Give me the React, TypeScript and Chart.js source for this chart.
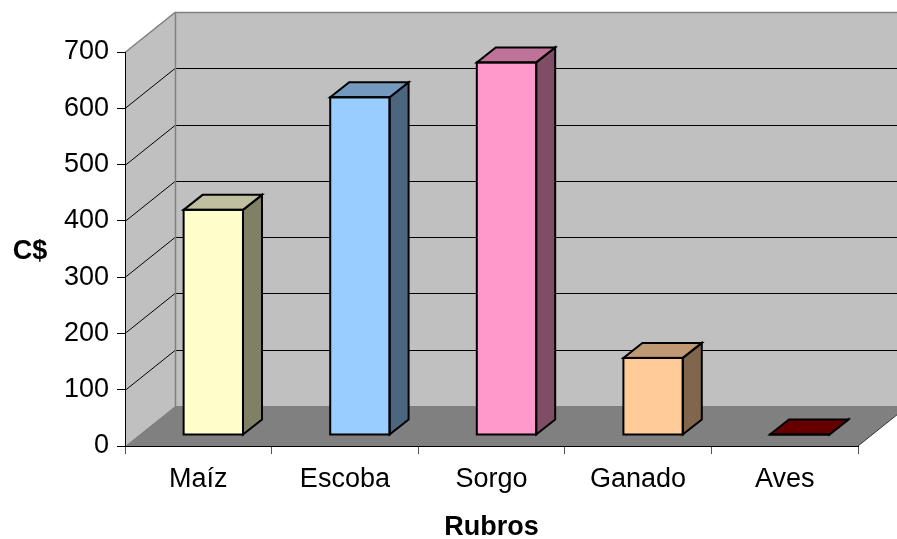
import { useEffect, useRef } from 'react';
import { Chart, registerables } from 'chart.js';

Chart.register(...registerables);

const categories = ['Maíz', 'Escoba', 'Sorgo', 'Ganado', 'Aves'];
const values = [400, 600, 662, 137, 1];
const yTicks = [0, 100, 200, 300, 400, 500, 600, 700];
const frontColors = ['#FFFFCC', '#99CCFF', '#FF99CC', '#FFCC99', '#660000'];
const sideColors = ['#808066', '#4D6680', '#804D66', '#80664D', '#330000'];
const topColors = ['#C0C0A0', '#7399BF', '#BF7399', '#BF9973', '#660000'];
const yTitle = 'C$';
const xTitle = 'Rubros';

const FONT = '"Liberation Sans", Arial, sans-serif';
// depth of the walls / floor
const DX = 50;
const DY = -40;
// plane of the bars
const BX = 15;
const BY = -11;
// depth of each bar
const SX = 19;
const SY = -15;

function poly(ctx: CanvasRenderingContext2D, pts: number[][], fill: string | null, stroke?: string, lw = 1) {
  ctx.beginPath();
  ctx.moveTo(pts[0][0], pts[0][1]);
  for (let i = 1; i < pts.length; i++) ctx.lineTo(pts[i][0], pts[i][1]);
  ctx.closePath();
  if (fill) {
    ctx.fillStyle = fill;
    ctx.fill();
  }
  if (stroke) {
    ctx.strokeStyle = stroke;
    ctx.lineWidth = lw;
    ctx.stroke();
  }
}

function line(ctx: CanvasRenderingContext2D, pts: number[][], color: string, lw = 1) {
  ctx.beginPath();
  ctx.moveTo(pts[0][0], pts[0][1]);
  for (let i = 1; i < pts.length; i++) ctx.lineTo(pts[i][0], pts[i][1]);
  ctx.strokeStyle = color;
  ctx.lineWidth = lw;
  ctx.stroke();
}

const threeD = {
  id: 'threeD',
  beforeDraw(chart: any) {
    const { ctx, chartArea: a, scales } = chart;
    const y = scales.y;
    const x0 = a.left;
    const x1 = a.right;
    const maxV = yTicks[yTicks.length - 1];
    const top = y.getPixelForValue(maxV);
    const bot = y.getPixelForValue(0);
    ctx.save();
    // back wall
    poly(ctx, [[x0 + DX, top + DY], [x1 + DX, top + DY], [x1 + DX, bot + DY], [x0 + DX, bot + DY]], '#C0C0C0');
    // left wall
    poly(ctx, [[x0, top], [x0 + DX, top + DY], [x0 + DX, bot + DY], [x0, bot]], '#C0C0C0');
    // floor
    poly(ctx, [[x0, bot], [x1, bot], [x1 + DX, bot + DY], [x0 + DX, bot + DY]], '#808080');
    // grid lines
    for (const v of yTicks) {
      if (v <= 0 || v >= maxV) continue;
      const py = Math.round(y.getPixelForValue(v)) + 0.5;
      line(ctx, [[x0, py], [x0 + DX, py + DY]], '#000000', 1);
      line(ctx, [[x0 + DX, py + DY], [x1 + DX, py + DY]], '#000000', 1);
    }
    // wall borders
    const tpy = Math.round(top) + 0.5;
    line(ctx, [[x0, tpy], [x0 + DX, tpy + DY], [x1 + DX, tpy + DY]], '#808080', 1.5);
    line(ctx, [[x0 + DX + 0.5, tpy + DY], [x0 + DX + 0.5, bot + DY]], '#808080', 1.5);
    line(ctx, [[x1, bot], [x1 + DX, bot + DY]], '#333333', 1);
    ctx.restore();
  },
  beforeDatasetsDraw(chart: any) {
    chart.ctx.save();
    chart.ctx.translate(BX, BY);
  },
  afterDatasetsDraw(chart: any) {
    const { ctx } = chart;
    const meta = chart.getDatasetMeta(0);
    meta.data.forEach((el: any, i: number) => {
      const { x, y, base, width } = el.getProps(['x', 'y', 'base', 'width'], true);
      const l = x - width / 2;
      const r = x + width / 2;
      ctx.lineJoin = 'miter';
      poly(ctx, [[r, y], [r + SX, y + SY], [r + SX, base + SY], [r, base]], sideColors[i], '#000000', 2);
      poly(ctx, [[l, y], [r, y], [r + SX, y + SY], [l + SX, y + SY]], topColors[i], '#000000', 2);
      ctx.strokeStyle = '#000000';
      ctx.lineWidth = 2;
      ctx.strokeRect(l, y, width, base - y);
    });
    ctx.restore();
  },
  afterDraw(chart: any) {
    const { ctx, chartArea: a } = chart;
    ctx.save();
    ctx.font = `bold 27px ${FONT}`;
    ctx.fillStyle = '#000000';
    ctx.textAlign = 'center';
    ctx.textBaseline = 'middle';
    ctx.fillText(yTitle, 30, (a.top + a.bottom) / 2 + 3);
    ctx.restore();
  },
};

export default function App() {
  const ref = useRef<HTMLCanvasElement>(null);
  useEffect(() => {
    if (!ref.current) return;
    Chart.defaults.font.family = FONT;
    const chart = new Chart(ref.current, {
      type: 'bar',
      data: {
        labels: categories,
        datasets: [
          {
            data: values,
            backgroundColor: frontColors,
            borderColor: '#000000',
            borderWidth: 0,
            barPercentage: 0.405,
            categoryPercentage: 1,
          },
        ],
      },
      plugins: [threeD],
      options: {
        responsive: false,
        animation: false,
        events: [],
        layout: { padding: { top: 52, right: 39, left: 0, bottom: 0 } },
        plugins: { legend: { display: false }, tooltip: { enabled: false } },
        scales: {
          x: {
            afterFit: (s: any) => {
              s.height = 93;
            },
            grid: {
              display: true,
              drawOnChartArea: false,
              drawTicks: true,
              tickLength: 8,
              color: '#555555',
              offset: true,
            },
            border: { display: true, color: '#000000', width: 1 },
            ticks: { font: { size: 27 }, color: '#000000', padding: 9, maxRotation: 0 },
            title: {
              display: true,
              text: xTitle,
              color: '#000000',
              font: { size: 27, weight: 'bold', lineHeight: '22px' },
              padding: { top: 0, bottom: 0 },
            },
          },
          y: {
            min: 0,
            max: 700,
            afterFit: (s: any) => {
              s.width = 125;
            },
            afterBuildTicks: (s: any) => {
              s.ticks = yTicks.map((v) => ({ value: v }));
            },
            grid: {
              display: true,
              drawOnChartArea: false,
              drawTicks: true,
              tickLength: 8,
              color: '#000000',
            },
            border: { display: true, color: '#000000', width: 1 },
            ticks: { font: { size: 27 }, color: '#000000', padding: 8 },
          },
        },
      } as any,
    });
    return () => chart.destroy();
  }, []);
  return (
    <div style={{ position: 'fixed', left: 0, top: 0, width: 897, height: 539 }}>
      <canvas ref={ref} width={897} height={539} style={{ display: 'block', width: 897, height: 539 }} />
    </div>
  );
}
